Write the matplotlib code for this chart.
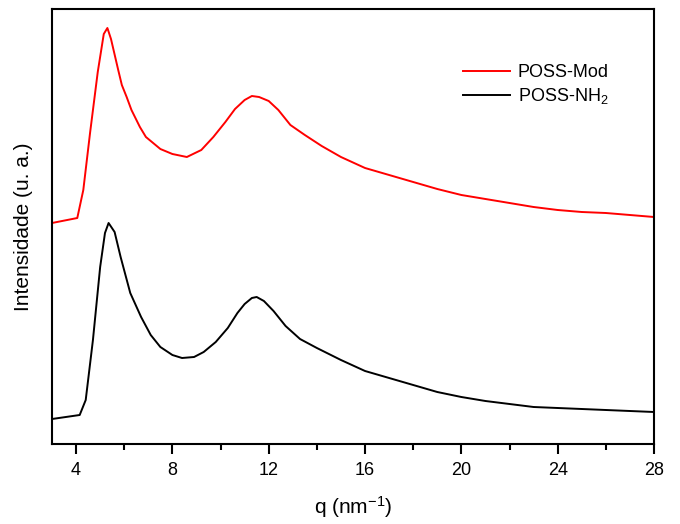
import matplotlib
matplotlib.use("Agg")
import matplotlib.pyplot as plt
from matplotlib.ticker import MultipleLocator

plt.rcParams['font.family'] = ['Liberation Sans', 'DejaVu Sans']
plt.rcParams['mathtext.fontset'] = 'custom'
plt.rcParams['mathtext.rm'] = 'Liberation Sans'
plt.rcParams['mathtext.it'] = 'Liberation Sans:italic'

# q values (nm^-1) and intensities (arbitrary units)
q_mod = [3.0, 4.05, 4.3, 4.58, 4.9, 5.15, 5.3, 5.45, 5.75, 5.9, 6.1, 6.3, 6.65,
         6.9, 7.5, 8.0, 8.6, 9.2, 9.7, 10.2, 10.6, 11.0, 11.3, 11.6, 12.0,
         12.4, 12.9, 13.5, 14.2, 15.0, 16.0, 17.0, 18.0, 19.0, 20.0, 21.0,
         22.0, 23.0, 24.0, 25.0, 26.0, 27.0, 28.0]
i_mod = [221, 226, 254, 311, 372, 410, 416, 405, 374, 359, 347, 334, 317,
         307, 295, 290, 287, 294, 307, 322, 335, 344, 348, 347, 343,
         334, 319, 309, 298, 287, 276, 269, 262, 255, 249, 245,
         241, 237, 234, 232, 231, 229, 227]

q_nh2 = [3.0, 4.15, 4.4, 4.7, 5.0, 5.2, 5.35, 5.6, 5.85, 6.25, 6.7, 7.1, 7.5,
         8.0, 8.4, 8.9, 9.3, 9.8, 10.3, 10.7, 11.0, 11.3, 11.5, 11.8, 12.2,
         12.7, 13.3, 14.0, 15.0, 16.0, 17.0, 18.0, 19.0, 20.0, 21.0, 22.0,
         23.0, 24.0, 25.0, 26.0, 27.0, 28.0]
i_nh2 = [25, 29, 44, 104, 177, 211, 221, 212, 187, 151, 127, 109, 97,
         89, 86, 87, 92, 102, 116, 131, 140, 146, 147, 143, 133,
         118, 105, 96, 84, 73, 66, 59, 52, 47, 43, 40,
         37, 36, 35, 34, 33, 32]

xticks = [4, 8, 12, 16, 20, 24, 28]
labels = ['POSS-Mod', 'POSS-NH$_2$']
colors = ['#ff0000', '#000000']

fig = plt.figure(figsize=(6.8, 5.24), dpi=100)
ax = fig.add_axes([52/680, 80/524, 602/680, 435/524])

ax.plot(q_mod, i_mod, color=colors[0], lw=1.4, label=labels[0])
ax.plot(q_nh2, i_nh2, color=colors[1], lw=1.4, label=labels[1])

ax.set_xlim(3, 28)
ax.set_ylim(0, 435)
ax.set_xticks(xticks)
ax.xaxis.set_minor_locator(MultipleLocator(2))
ax.set_yticks([])
ax.tick_params(axis='x', which='major', direction='out', length=7, width=1.5,
               labelsize=13, pad=6)
ax.tick_params(axis='x', which='minor', direction='out', length=4, width=1.5)
for s in ax.spines.values():
    s.set_linewidth(1.5)

ax.set_xlabel('q (nm$^{-1}$)', fontsize=15, labelpad=11)
ax.set_ylabel('Intensidade (u. a.)', fontsize=15, labelpad=14)

leg = ax.legend(loc='upper right', bbox_to_anchor=(0.937, 0.89), frameon=False,
                fontsize=13, handlelength=2.6, handletextpad=0.45,
                labelspacing=0.3, borderaxespad=0)

fig.savefig('out.png', dpi=100)
